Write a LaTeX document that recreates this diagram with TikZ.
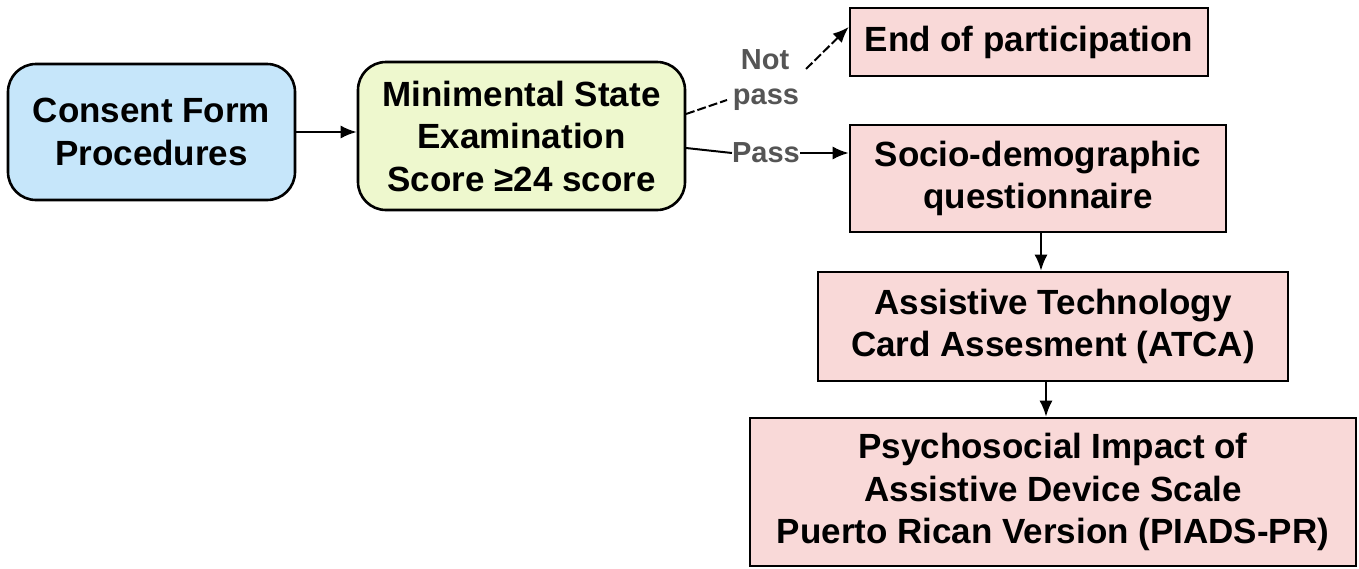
\documentclass[tikz,border=0pt]{standalone}
\usepackage{fontspec}
\setmainfont{Liberation Sans}
\usetikzlibrary{arrows.meta}
\definecolor{cblue}{HTML}{C6E6FA}
\definecolor{cgreen}{HTML}{EEF8CE}
\definecolor{cpink}{HTML}{F9D9D8}
\definecolor{lblgray}{HTML}{555555}
\tikzset{
  box/.style={draw=black, line width=2.6pt, align=center, inner sep=0pt,
    font=\fontsize{35}{42.5}\selectfont\bfseries},
  rbox/.style={box, rounded corners=28pt},
  lbl/.style={text=lblgray, font=\fontsize{29}{35}\selectfont\bfseries, inner sep=0pt, align=left},
  arr/.style={line width=2pt, -{Latex[length=16pt,width=13pt]}},
  ln/.style={line width=2pt}
}
\begin{document}
\begin{tikzpicture}[x=1pt,y=-1pt]
\useasboundingbox (0,0) rectangle (1359,568);
\node[rbox, fill=cblue, minimum width=287pt, minimum height=136pt] (consent) at (151.5,132) {Consent Form\\Procedures};
\node[rbox, fill=cgreen, minimum width=327pt, minimum height=148pt] (mmse) at (521.5,136) {Minimental State\\Examination\\Score ≥24 score};
\node[box, fill=cpink, minimum width=358pt, minimum height=68pt] (endp) at (1029,42) {End of participation};
\node[box, fill=cpink, minimum width=376pt, minimum height=107pt] (socio) at (1038,178.5) {Socio-demographic\\questionnaire};
\node[box, fill=cpink, minimum width=470pt, minimum height=109pt] (atca) at (1053,326.5) {Assistive Technology\\Card Assesment (ATCA)};
\node[box, fill=cpink, minimum width=606pt, minimum height=148pt] (piads) at (1053,492) {Psychosocial Impact of\\Assistive Device Scale\\Puerto Rican Version (PIADS-PR)};
\node[lbl] (notpass) at (766,80) {\hspace*{8pt}Not\\pass};
\node[lbl] (pass) at (766,153) {Pass};
\coordinate (np1) at (686,114);
\coordinate (np2) at (727,100);
\coordinate (np3) at (806,69);
\coordinate (p1) at (686,148);
\draw[arr] (consent.east) -- (consent.east -| mmse.west);
\draw[ln, dash pattern=on 9pt off 3pt] (np1) -- (np2);
\draw[arr, dash pattern=on 9pt off 3pt] (np3) -- ([yshift=15pt]endp.west);
\draw[ln] (p1) -- (pass.west);
\draw[arr] (pass.east) -- (pass.east -| socio.west);
\draw[arr] ([xshift=3pt]socio.south) -- ([xshift=-12pt]atca.north);
\draw[arr] ([xshift=-7pt]atca.south) -- ([xshift=-7pt]atca.south |- piads.north);
\end{tikzpicture}
\end{document}
